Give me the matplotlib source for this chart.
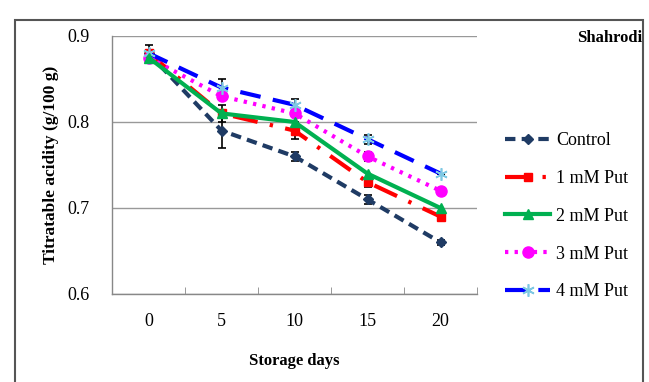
import matplotlib.pyplot as plt
from matplotlib.patches import Rectangle

plt.rcParams['font.family'] = ['Liberation Serif', 'DejaVu Serif']

# storage days (categorical x axis)
days = ['0', '5', '10', '15', '20']

control = [0.88, 0.79, 0.76, 0.71, 0.66]
put_1mm = [0.88, 0.81, 0.79, 0.73, 0.69]
put_2mm = [0.875, 0.81, 0.80, 0.74, 0.70]
put_3mm = [0.875, 0.83, 0.81, 0.76, 0.72]
put_4mm = [0.88, 0.84, 0.82, 0.78, 0.74]

# error bars (only a few visible in the original)
control_err = [0.01, 0.02, 0.005, 0.005, 0.003]
put_1mm_err = [0.0, 0.01, 0.01, 0.005, 0.0]
put_3mm_err = [0.0, 0.0, 0.0, 0.005, 0.0]
put_4mm_err = [0.0, 0.01, 0.007, 0.005, 0.0]

labels = ['Control', '1 mM Put', '2 mM Put', '3 mM Put', '4 mM Put']

fig = plt.figure(figsize=(6.49, 3.82), dpi=100)
ax = fig.add_axes([112 / 649, 88 / 382, 365 / 649, 258 / 382])

x = list(range(len(days)))

# error bars first, behind the lines
for vals, err in [(control, control_err), (put_1mm, put_1mm_err),
                  (put_3mm, put_3mm_err), (put_4mm, put_4mm_err)]:
    ax.errorbar(x, vals, yerr=err, fmt='none', ecolor='black',
                elinewidth=1.2, capsize=3, capthick=1.2, zorder=2)

ax.plot(x, control, color='#1F3B64', lw=3, ls=(0, (2.5, 1.5)),
        marker='D', ms=5, label=labels[0], zorder=3)
ax.plot(x, put_1mm, color='#FF0000', lw=3, ls=(0, (6, 3, 0.8, 3)),
        marker='s', ms=6, label=labels[1], zorder=3)
ax.plot(x, put_2mm, color='#00B050', lw=3, ls='-',
        marker='^', ms=7, label=labels[2], zorder=4)
ax.plot(x, put_3mm, color='#FF00FF', lw=3, ls=(0, (0.8, 1.5)),
        marker='o', ms=8, label=labels[3], zorder=3)
ax.plot(x, put_4mm, color='#0000FF', lw=3, ls=(0, (5, 3)),
        marker=(6, 2, 0), ms=9, mec='#7EC8E3', mfc='#7EC8E3', mew=1.2,
        label=labels[4], zorder=3)

ax.set_xlim(-0.5, 4.5)
ax.set_ylim(0.6, 0.9)
ax.set_yticks([0.6, 0.7, 0.8, 0.9])
ax.set_yticklabels(['0.6', '0.7', '0.8', '0.9'], fontsize=13)
ax.set_xticks(x)
ax.set_xticklabels(days, fontsize=13)
ax.tick_params(axis='x', length=0, pad=14)
ax.tick_params(axis='y', length=0, pad=16)
ax.set_xticks([-0.5, 0.5, 1.5, 2.5, 3.5, 4.5], minor=True)
ax.tick_params(axis='x', which='minor', direction='in', length=5, color='#888888')

ax.grid(axis='y', color='#999999', lw=1)
ax.set_axisbelow(True)
for side in ['top', 'right']:
    ax.spines[side].set_visible(False)
for side in ['left', 'bottom']:
    ax.spines[side].set_color('#888888')
    ax.spines[side].set_linewidth(1)

ax.set_xlabel('Storage days', fontsize=12, fontweight='bold', labelpad=16)
ax.set_ylabel('Titratable acidity (g/100 g)', fontsize=12.5, fontweight='bold', labelpad=6)

fig.text(0.99, 0.90, 'Shahrodi', fontsize=12, fontweight='bold', ha='right', va='center')

leg = ax.legend(loc='upper left', bbox_to_anchor=(498 / 649, 1 - 125 / 382),
                bbox_transform=fig.transFigure, frameon=False, fontsize=13,
                handlelength=2.5, handletextpad=0.3, labelspacing=1.15,
                borderaxespad=0)

# outer frame of the chart area
fig.patches.append(Rectangle((15 / 649, -0.1), 628 / 649, 1.1 - 20 / 382,
                             transform=fig.transFigure, fill=False,
                             edgecolor='#555555', lw=1.5))

fig.savefig('out.png', dpi=100)
